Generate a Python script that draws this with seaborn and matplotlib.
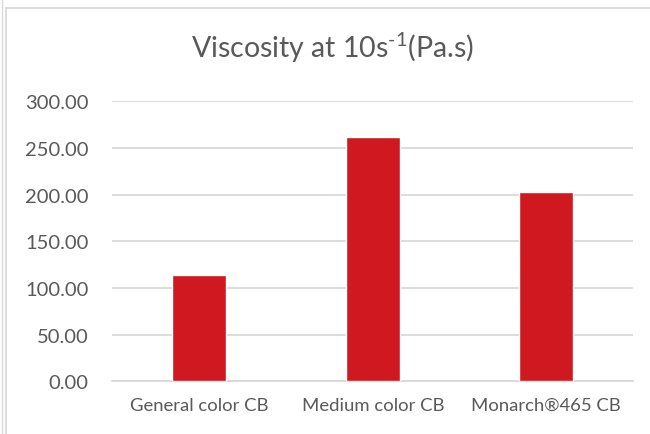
import matplotlib
matplotlib.use("Agg")
import matplotlib.pyplot as plt
import seaborn as sns
from matplotlib.lines import Line2D

# data
categories = ["General color CB", "Medium color CB", "Monarch®465 CB"]
viscosity = [114.0, 262.0, 203.0]
y_ticks = [0, 50, 100, 150, 200, 250, 300]

bar_color = "#CF181F"
text_color = "#595959"
grid_color = "#D9D9D9"

sns.set_style("white")
plt.rcParams["font.family"] = ["Lato", "DejaVu Sans"]
plt.rcParams["mathtext.fontset"] = "custom"
plt.rcParams["mathtext.rm"] = "Lato"
plt.rcParams["mathtext.it"] = "Lato:italic"
plt.rcParams["mathtext.bf"] = "Lato:bold"

fig = plt.figure(figsize=(6.5, 4.35), dpi=100)
ax = fig.add_axes([0.173, 0.121, 0.801, 0.6434])

sns.barplot(x=categories, y=viscosity, color=bar_color, width=0.313,
            saturation=1, ax=ax, zorder=3)

ax.set_ylim(0, 300)
ax.set_xlim(-0.5, 2.5)
ax.set_yticks(y_ticks)
ax.set_yticklabels([f"{v:.2f}" for v in y_ticks])
ax.yaxis.grid(True, color=grid_color, linewidth=1.3, zorder=0)
ax.set_axisbelow(True)
ax.tick_params(axis="y", length=0, labelsize=14.5, colors=text_color, pad=17)
ax.tick_params(axis="x", length=0, labelsize=13.3, colors=text_color, pad=11)
ax.set_xlabel("")
ax.set_ylabel("")
for side in ["top", "right", "left"]:
    ax.spines[side].set_visible(False)
ax.spines["bottom"].set_color(grid_color)
ax.spines["bottom"].set_linewidth(1.3)

fig.text(0.512, 1 - 58 / 435, r"Viscosity at 10s$^{\text{-}\mathregular{1}}$(Pa.s)",
         ha="center", va="baseline", fontsize=20.5, color=text_color)

# chart frame lines
fig.add_artist(Line2D([6 / 650, 6 / 650], [0, 1 - 9 / 435], color=grid_color, lw=1.3))
fig.add_artist(Line2D([6 / 650, 1], [1 - 9 / 435, 1 - 9 / 435], color=grid_color, lw=1.3))
fig.add_artist(Line2D([1.5 / 650, 1.5 / 650], [0, 1], color=grid_color, lw=1))

fig.savefig("out.png", dpi=100)
